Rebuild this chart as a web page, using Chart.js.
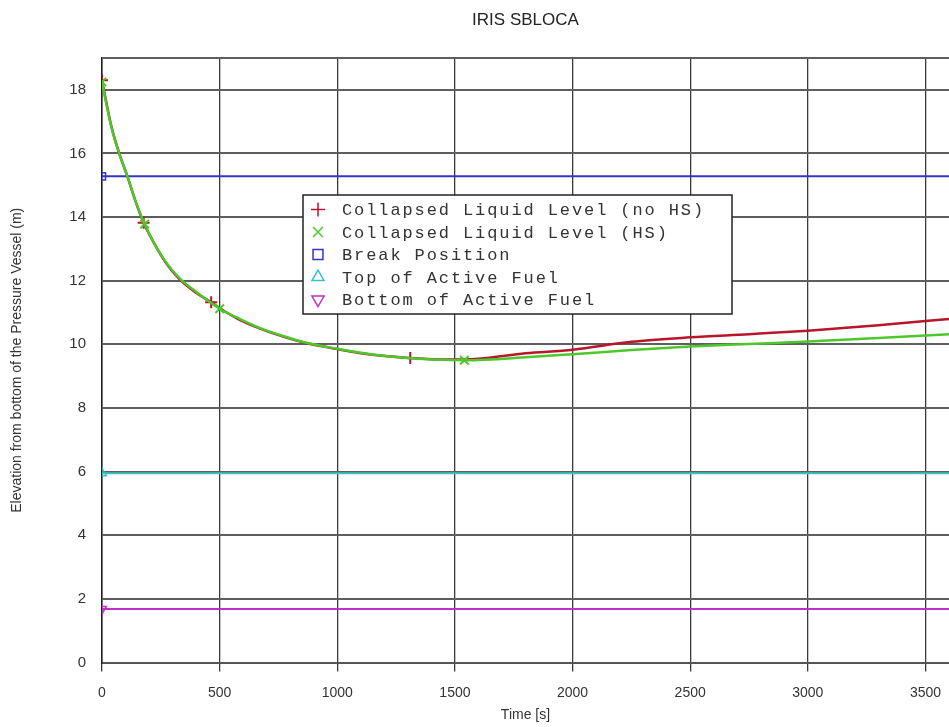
<!DOCTYPE html>
<html>
<head>
<meta charset="utf-8">
<title>IRIS SBLOCA</title>
<script src="https://cdn.jsdelivr.net/npm/chart.js@4.4.1/dist/chart.umd.min.js"></script>
<style>
  html, body { margin: 0; padding: 0; background: #fff; overflow: hidden; }
  body { width: 949px; height: 727px; }
  /* a bit wider than the window: the original plot runs off its right edge */
  #wrap { width: 957px; height: 727px; }
</style>
</head>
<body>
<div id="wrap"><canvas id="sblocaChart"></canvas></div>
<script>
// collapsed liquid level, no heat structures
const timeNoHS = [0, 20, 40, 75, 108, 140, 177, 220, 270, 330, 400, 464, 530, 585, 669, 780, 868, 1000, 1150, 1310, 1450, 1600, 1800, 2000, 2250, 2500, 2750, 3000, 3300, 3600];
const levelNoHS = [18.3, 17.55, 16.85, 15.96, 15.28, 14.55, 13.82, 13.2, 12.58, 12.04, 11.62, 11.32, 11.0, 10.77, 10.5, 10.22, 10.04, 9.85, 9.67, 9.57, 9.52, 9.55, 9.72, 9.83, 10.08, 10.22, 10.32, 10.43, 10.6, 10.8];
const markNoHS = [0, 177, 464, 1310];

// collapsed liquid level, with heat structures
const timeHS = [0, 20, 40, 75, 108, 140, 181, 220, 270, 330, 400, 500, 585, 669, 780, 868, 1000, 1150, 1300, 1540, 1815, 2000, 2250, 2500, 2750, 3000, 3300, 3600];
const levelHS = [18.25, 17.5, 16.82, 15.95, 15.28, 14.55, 13.78, 13.2, 12.6, 12.07, 11.65, 11.12, 10.8, 10.52, 10.24, 10.05, 9.86, 9.68, 9.57, 9.5, 9.6, 9.69, 9.82, 9.93, 10.01, 10.09, 10.2, 10.32];
const markHS = [0, 181, 500, 1540];

// reference elevations (constant over the transient)
const refTimes = [0, 3600];
const breakLevel = [15.28, 15.28];
const topFuelLevel = [5.95, 5.95];
const bottomFuelLevel = [1.68, 1.68];

const seriesLabels = [
    "Collapsed Liquid Level (no HS)",
    "Collapsed Liquid Level (HS)",
    "Break Position",
    "Top of Active Fuel",
    "Bottom of Active Fuel"
];
const xTickValues = [0, 500, 1000, 1500, 2000, 2500, 3000, 3500];
const yTickValues = [0, 2, 4, 6, 8, 10, 12, 14, 16, 18];

function toPoints(xs, ys) {
    return xs.map((x, i) => ({ x: x, y: ys[i] }));
}

Chart.defaults.font.family = "'Liberation Sans', Arial, sans-serif";

// boxed legend placed inside the plot, like the original
const legendBox = {
    id: "legendBox",
    afterDatasetsDraw(chart) {
        const { ctx, chartArea } = chart;
        const left = chartArea.left + 201;
        const top = chartArea.top + 137;
        const w = 429, h = 119;
        ctx.save();
        ctx.fillStyle = "#fff";
        ctx.fillRect(left, top, w, h);
        ctx.strokeStyle = "#222";
        ctx.lineWidth = 1.5;
        ctx.strokeRect(left, top, w, h);

        chart.data.datasets.forEach((ds, i) => {
            const y = top + 14.5 + i * 22.5;
            ctx.save();
            ctx.strokeStyle = ds.borderColor;
            ctx.fillStyle = "rgba(0,0,0,0)";
            ctx.lineWidth = 1.5;
            Chart.helpers.drawPoint(ctx, {
                pointStyle: ds.pointStyle,
                rotation: ds.pointRotation || 0,
                radius: 7,
                borderWidth: 1.5
            }, left + 15, y);
            ctx.restore();

            ctx.font = "17px 'Liberation Mono', 'Courier New', monospace";
            ctx.letterSpacing = "1.9px";
            ctx.textBaseline = "middle";
            ctx.textAlign = "left";
            ctx.fillStyle = "#333";
            ctx.fillText(ds.label, left + 39, y + 1);
        });
        ctx.restore();
    }
};

const ctx = document.getElementById("sblocaChart");

new Chart(ctx, {
    type: "scatter",
    data: {
        datasets: [
            {
                label: seriesLabels[0],
                data: toPoints(timeNoHS, levelNoHS),
                borderColor: "#b8162a",
                backgroundColor: "rgba(0,0,0,0)",
                borderWidth: 2.5,
                showLine: true,
                cubicInterpolationMode: "monotone",
                pointStyle: "cross",
                pointRadius: c => markNoHS.includes(c.raw.x) ? 6 : 0,
                pointBorderWidth: 2,
                order: 1
            },
            {
                label: seriesLabels[1],
                data: toPoints(timeHS, levelHS),
                borderColor: "#4cc82c",
                backgroundColor: "rgba(0,0,0,0)",
                borderWidth: 2.5,
                showLine: true,
                cubicInterpolationMode: "monotone",
                pointStyle: "crossRot",
                pointRadius: c => markHS.includes(c.raw.x) ? 6 : 0,
                pointBorderWidth: 2,
                order: 0
            },
            {
                label: seriesLabels[2],
                data: toPoints(refTimes, breakLevel),
                borderColor: "#3434c8",
                backgroundColor: "rgba(0,0,0,0)",
                borderWidth: 2,
                showLine: true,
                pointStyle: "rect",
                pointRadius: c => c.dataIndex === 0 ? 5 : 0,
                pointBorderWidth: 1.5,
                order: 2
            },
            {
                label: seriesLabels[3],
                data: toPoints(refTimes, topFuelLevel),
                borderColor: "#3cc0c0",
                backgroundColor: "rgba(0,0,0,0)",
                borderWidth: 2,
                showLine: true,
                pointStyle: "triangle",
                pointRadius: c => c.dataIndex === 0 ? 5 : 0,
                pointBorderWidth: 1.5,
                order: 3
            },
            {
                label: seriesLabels[4],
                data: toPoints(refTimes, bottomFuelLevel),
                borderColor: "#c030c8",
                backgroundColor: "rgba(0,0,0,0)",
                borderWidth: 2,
                showLine: true,
                pointStyle: "triangle",
                pointRotation: 180,
                pointRadius: c => c.dataIndex === 0 ? 5 : 0,
                pointBorderWidth: 1.5,
                order: 4
            }
        ]
    },
    options: {
        responsive: true,
        maintainAspectRatio: false,
        animation: false,
        events: [],
        layout: { padding: 0 },
        plugins: {
            legend: { display: false },
            tooltip: { enabled: false },
            title: {
                display: true,
                text: "IRIS SBLOCA",
                fullSize: false,
                color: "#222",
                font: { size: 17, weight: "normal" },
                padding: { top: 10, bottom: 27.6 }
            }
        },
        scales: {
            x: {
                type: "linear",
                min: 0,
                max: 3600,
                afterBuildTicks: s => { s.ticks = xTickValues.map(v => ({ value: v })); },
                afterFit: s => { s.height = 64.5; },
                ticks: {
                    color: "#333",
                    font: { size: 14 },
                    padding: 13,
                    maxRotation: 0,
                    autoSkip: false,
                    callback: v => String(v)
                },
                grid: {
                    color: "#3a3a3a",
                    lineWidth: 1.3,
                    tickLength: 9,
                    tickColor: "#3a3a3a"
                },
                border: { color: "#555", width: 2 },
                title: {
                    display: true,
                    text: "Time [s]",
                    color: "#333",
                    font: { size: 14 },
                    padding: { top: 0, bottom: 3 }
                }
            },
            y: {
                min: 0,
                max: 19,
                afterBuildTicks: s => { s.ticks = yTickValues.concat([19]).map(v => ({ value: v })); },
                afterFit: s => { s.width = 102; },
                ticks: {
                    color: "#333",
                    font: { size: 15 },
                    padding: 16,
                    autoSkip: false,
                    callback: v => v === 19 ? "" : String(v)
                },
                grid: {
                    color: "#5e5e5e",
                    lineWidth: 2,
                    drawTicks: false
                },
                border: { color: "#222", width: 1.5 },
                title: {
                    display: true,
                    text: "Elevation from bottom of the Pressure Vessel (m)",
                    color: "#333",
                    font: { size: 14 },
                    padding: { top: 9, bottom: 0 }
                }
            }
        }
    },
    plugins: [legendBox]
});
</script>
</body>
</html>
